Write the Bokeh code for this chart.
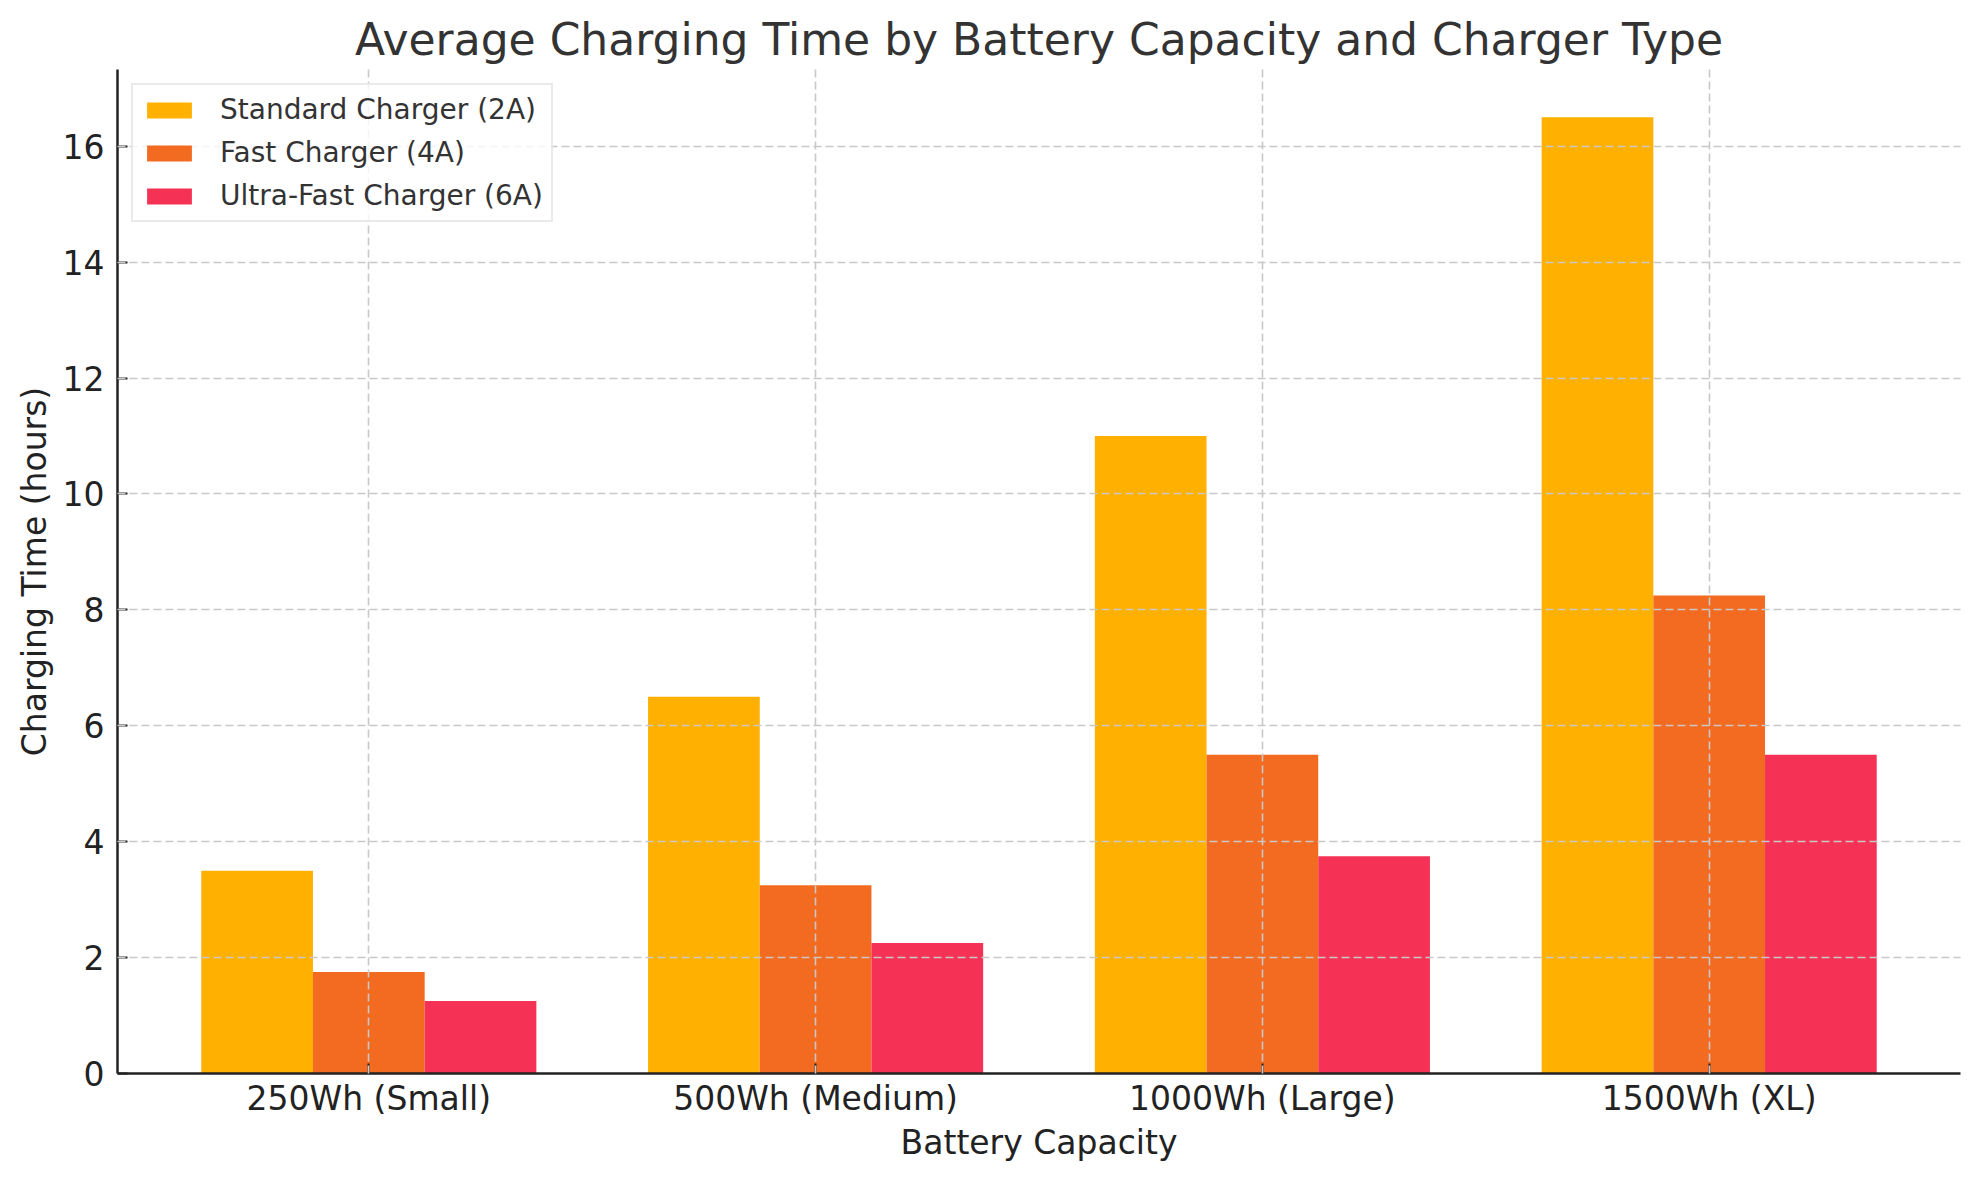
from bokeh.plotting import figure
from bokeh.models import FactorRange, Range1d, ColumnDataSource, FixedTicker
from bokeh.transform import dodge
from bokeh.embed import file_html
from bokeh.resources import INLINE

# ---- data ----
capacities = ["250Wh (Small)", "500Wh (Medium)", "1000Wh (Large)", "1500Wh (XL)"]
standard_2a = [3.5, 6.5, 11.0, 16.5]
fast_4a = [1.75, 3.25, 5.5, 8.25]
ultra_6a = [1.25, 2.25, 3.75, 5.5]
series_labels = ["Standard Charger (2A)", "Fast Charger (4A)", "Ultra-Fast Charger (6A)"]
series_colors = ["#FFB000", "#F26B21", "#F53255"]
y_ticks = [0, 2, 4, 6, 8, 10, 12, 14, 16]

FONT = "DejaVu Sans"

src = ColumnDataSource(dict(cap=capacities, s=standard_2a, f=fast_4a, u=ultra_6a))

p = figure(
    x_range=FactorRange(*capacities, range_padding=0.0625, range_padding_units="absolute"),
    y_range=Range1d(0, 17.325),
    width=1963, height=1164,
    output_backend="svg", toolbar_location=None,
    title="Average Charging Time by Battery Capacity and Charger Type",
    min_border_left=117, min_border_right=3, min_border_top=69, min_border_bottom=80,
)
p.outline_line_color = None
p.background_fill_color = "white"
p.border_fill_color = "white"

cols = ["s", "f", "u"]
offsets = [-0.25, 0.0, 0.25]
for c, off, lab, col in zip(cols, offsets, series_labels, series_colors):
    p.vbar(x=dodge("cap", off, range=p.x_range), top=c, width=0.25, bottom=0,
           source=src, fill_color=col, line_color=None, legend_label=lab)

# title
p.title.text_font = FONT
p.title.text_font_size = "44px"
p.title.text_font_style = "normal"
p.title.text_color = "#333333"
p.title.align = "center"

# axes
for ax in (p.xaxis[0], p.yaxis[0]):
    ax.axis_line_color = "#222222"
    ax.axis_line_width = 2.5
    ax.major_tick_line_color = "#222222"
    ax.major_tick_line_width = 2
    ax.major_tick_in = 10
    ax.major_tick_out = 0
    ax.minor_tick_line_color = None
    ax.major_label_text_font = FONT
    ax.major_label_text_font_size = "33px"
    ax.major_label_text_color = "#222222"
    ax.axis_label_text_font = FONT
    ax.axis_label_text_font_size = "33px"
    ax.axis_label_text_font_style = "normal"
    ax.axis_label_text_color = "#222222"

p.xaxis.axis_label = "Battery Capacity"
p.yaxis.axis_label = "Charging Time (hours)"
p.yaxis.ticker = FixedTicker(ticks=y_ticks)
p.yaxis.major_label_standoff = 13
p.xaxis.major_label_standoff = 5
p.xaxis.major_label_text_line_height = 1.0
p.xaxis.axis_label_text_line_height = 1.0
p.xaxis.axis_label_standoff = 2
p.yaxis.axis_label_standoff = 6

# grid over bars
for g in (p.xgrid[0], p.ygrid[0]):
    g.grid_line_color = "#c8c8c8"
    g.grid_line_width = 1.6
    g.grid_line_dash = "8 4"
    g.level = "annotation"
p.ygrid.ticker = FixedTicker(ticks=y_ticks)

# legend
lg = p.legend[0]
lg.location = "top_left"
lg.margin = 14
lg.padding = 8
lg.spacing = 10
lg.glyph_width = 56
lg.glyph_height = 20
lg.label_standoff = 23
lg.label_text_font = FONT
lg.label_text_font_size = "28px"
lg.label_text_color = "#333333"
lg.border_line_color = "#d5d5d5"
lg.border_line_width = 2
lg.background_fill_alpha = 0.8

open("out.html", "w").write(file_html(p, INLINE))
